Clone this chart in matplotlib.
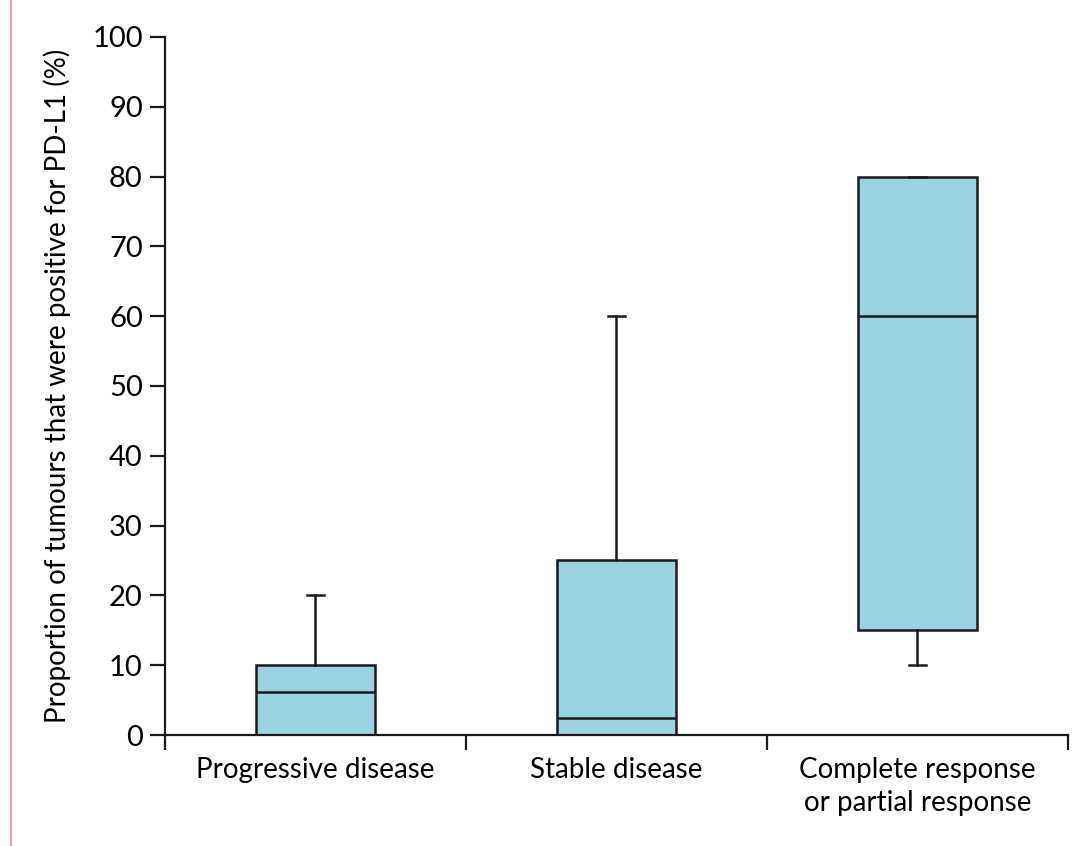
import matplotlib.pyplot as plt
from matplotlib.lines import Line2D

plt.rcParams['font.family'] = ['Lato', 'DejaVu Sans']

categories = ['Progressive disease', 'Stable disease', 'Complete response\nor partial response']
whisker_low = [0, 0, 10]
q1 = [0, 0, 15]
median = [6.2, 2.5, 60]
q3 = [10, 25, 80]
whisker_high = [20, 60, 80]
positions = [0.5, 1.5, 2.5]

stats = []
for i in range(len(categories)):
    stats.append({'whislo': whisker_low[i], 'q1': q1[i], 'med': median[i],
                  'q3': q3[i], 'whishi': whisker_high[i], 'label': categories[i]})

fig = plt.figure(figsize=(10.89, 8.46), dpi=100)
ax = fig.add_axes([0.1515, 0.1312, 0.8292, 0.8251])

line_col = '#1a1a1a'
ax.bxp(stats, positions=positions, widths=0.395, showfliers=False, patch_artist=True,
       boxprops=dict(facecolor='#9bd3e3', edgecolor=line_col, linewidth=1.8),
       medianprops=dict(color=line_col, linewidth=1.8),
       whiskerprops=dict(color=line_col, linewidth=1.8),
       capprops=dict(color=line_col, linewidth=1.8), capwidths=0.055)

ax.set_xlim(0, 3)
ax.set_ylim(0, 100)
ax.set_yticks(range(0, 101, 10))
ax.set_xticks([0, 1, 2, 3])
ax.set_xticklabels([])
ax.set_xticks(positions, minor=True)
ax.set_xticklabels(categories, minor=True, fontsize=20, linespacing=1.3)
ax.tick_params(axis='x', which='minor', length=0, pad=16)
ax.tick_params(axis='both', which='major', length=11, width=1.6, color=line_col,
               labelsize=21, pad=5)

for s in ['top', 'right']:
    ax.spines[s].set_visible(False)
for s in ['left', 'bottom']:
    ax.spines[s].set_linewidth(1.6)
    ax.spines[s].set_color(line_col)

ax.set_ylabel('Proportion of tumours that were positive for PD-L1 (%)', fontsize=20, labelpad=15)

# pink page border on the left edge
fig.add_artist(Line2D([0.0105, 0.0105], [0, 1], transform=fig.transFigure,
                      color='#e8a0b4', linewidth=1.5))

fig.savefig('out.png', dpi=100)
